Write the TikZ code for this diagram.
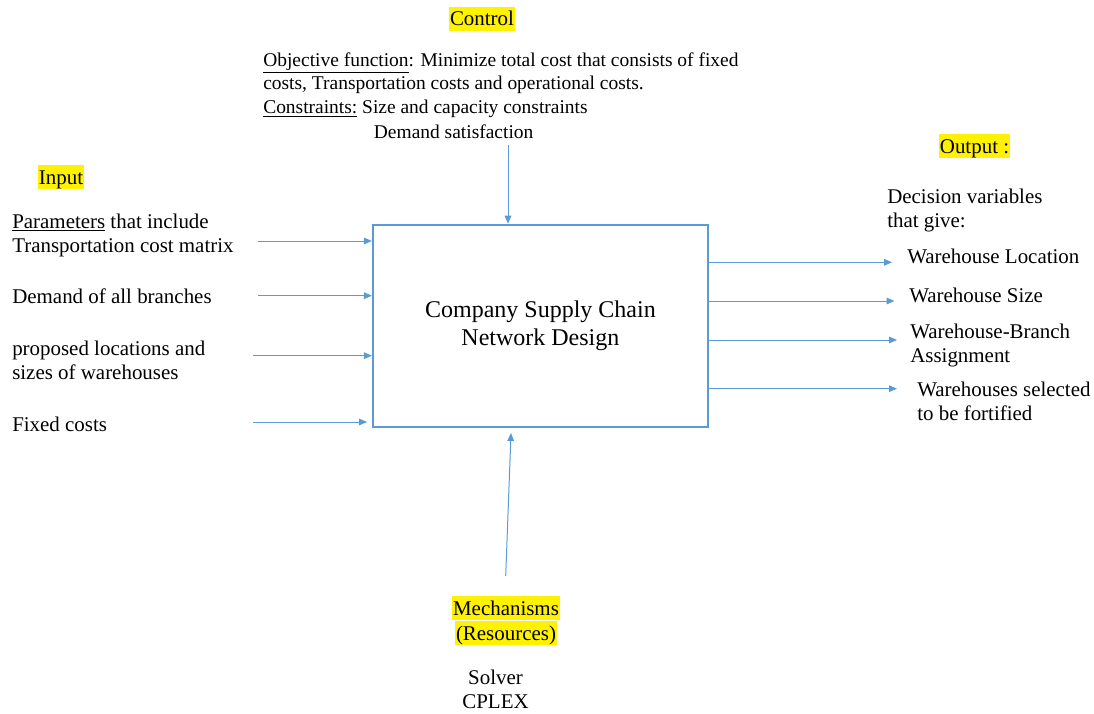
\documentclass[tikz,border=0pt]{standalone}
\usepackage{fontspec}
\setmainfont{Liberation Serif}
\usetikzlibrary{arrows.meta}
\definecolor{flow}{HTML}{5B9BD5}
\begin{document}
\begin{tikzpicture}[x=0.75pt,y=-0.75pt,
  lbl/.style={inner sep=0pt, font=\fontsize{15.7}{18}\selectfont, align=left, anchor=base west},
  tag/.style={fill=yellow, inner xsep=1pt, inner ysep=0pt, text height=14.25pt, text depth=3.75pt, font=\fontsize{15.7}{18}\selectfont, anchor=base},
  flowarrow/.style={draw=flow, line width=0.75pt, -{Triangle[length=6pt,width=5pt]}},
]
\useasboundingbox (0,0) rectangle (1094,713);

% central activity box
\node[draw=flow, line width=1.5pt, minimum width=251.25pt, minimum height=151.5pt, inner sep=0pt,
      align=center, font=\fontsize{18}{21}\selectfont] (sys) at (540.4,325.7)
      {Company Supply Chain\\Network Design};

% highlighted headings
\node[tag] (tctrl) at (482,26) {Control};
\node[tag] (tin) at (61,184) {Input};
\node[tag] (tout) at (974.5,153) {Output :};
\node[tag] (tmech) at (506,615) {Mechanisms};
\node[tag] (tres) at (506,640) {(Resources)};

% control text (anchored at the baseline of its last line)
\node[lbl, font=\fontsize{14.6}{18}\selectfont] (ctrl) at (263,138)
  {\underline{Objective function}: Minimize total cost that consists of fixed\\
costs, Transportation costs and operational costs.\\
\underline{Constraints:} Size and capacity constraints\\
\hspace*{83pt}Demand satisfaction};

% inputs
\node[lbl] (in1) at (12,252) {\underline{Parameters} that include\\Transportation cost matrix};
\node[lbl] (in2) at (12,303) {Demand of all branches};
\node[lbl] (in3) at (12,379) {proposed locations and\\sizes of warehouses};
\node[lbl] (in4) at (12,431) {Fixed costs};

% outputs
\node[lbl] (dv) at (887,227) {Decision variables\\that give:};
\node[lbl] (out1) at (907,263) {Warehouse Location};
\node[lbl] (out2) at (909,302) {Warehouse Size};
\node[lbl] (out3) at (910,362) {Warehouse-Branch\\Assignment};
\node[lbl] (out4) at (917,420) {Warehouses selected\\to be fortified};

% mechanisms
\node[lbl, anchor=base, align=center] (mech) at (495.5,708) {Solver\\CPLEX};

% input arrows
\coordinate (a1) at (258,241);
\coordinate (a2) at (258,295.7);
\coordinate (a3) at (253,355.7);
\coordinate (a4) at (253,422);
\coordinate (a4e) at (367,422);
\draw[flowarrow] (a1) -- (a1 -| sys.west);
\draw[flowarrow] (a2) -- (a2 -| sys.west);
\draw[flowarrow] (a3) -- (a3 -| sys.west);
\draw[flowarrow] (a4) -- (a4e);

% output arrows
\coordinate (b1) at (892,262.3);
\coordinate (b2) at (894.5,301);
\coordinate (b3) at (897,340);
\coordinate (b4) at (897,388.7);
\draw[flowarrow] (b1 -| sys.east) -- (b1);
\draw[flowarrow] (b2 -| sys.east) -- (b2);
\draw[flowarrow] (b3 -| sys.east) -- (b3);
\draw[flowarrow] (b4 -| sys.east) -- (b4);

% control arrow
\coordinate (c0) at (508,145);
\draw[flowarrow] (c0) -- (c0 |- sys.north);

% mechanism arrow
\coordinate (m0) at (505.7,576);
\coordinate (m1) at (511,433);
\draw[flowarrow] (m0) -- (m1);
\end{tikzpicture}
\end{document}
